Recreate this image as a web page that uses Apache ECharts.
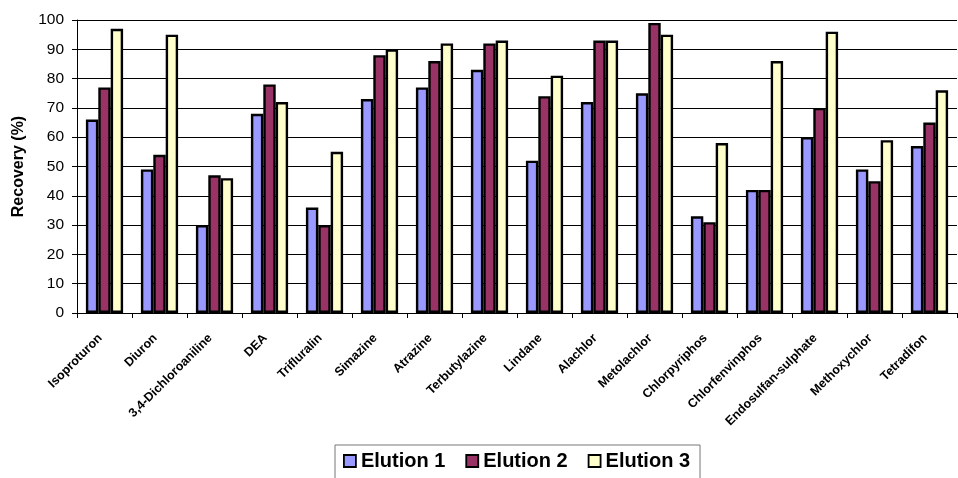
<!DOCTYPE html>
<html>
<head>
<meta charset="utf-8">
<script src="https://cdn.jsdelivr.net/npm/echarts@6/dist/echarts.min.js"></script>
<style>
  html, body { margin: 0; padding: 0; background: #fff; }
  #chart { width: 958px; height: 478px; }
</style>
</head>
<body>
<div id="chart"></div>
<script>
// Pesticide recovery by elution step
const compounds = [
  'Isoproturon', 'Diuron', '3,4-Dichloroaniline', 'DEA', 'Trifluralin',
  'Simazine', 'Atrazine', 'Terbutylazine', 'Lindane', 'Alachlor',
  'Metolachlor', 'Chlorpyriphos', 'Chlorfenvinphos', 'Endosulfan-sulphate',
  'Methoxychlor', 'Tetradifon'
];
const elution1 = [66, 49, 30, 68, 36, 73, 77, 83, 52, 72, 75, 33, 42, 60, 49, 57];
const elution2 = [77, 54, 47, 78, 30, 88, 86, 92, 74, 93, 99, 31, 42, 70, 45, 65];
const elution3 = [97, 95, 46, 72, 55, 90, 92, 93, 81, 93, 95, 58, 86, 96, 59, 76];
const seriesNames = ['Elution 1', 'Elution 2', 'Elution 3'];
const seriesColors = ['#9999FF', '#993366', '#FFFFCC'];

const font = 'Arial, "Liberation Sans", sans-serif';

function barSeries(name, data, color) {
  return {
    name: name,
    type: 'bar',
    data: data,
    barWidth: 12.4,
    barGap: '0%',
    itemStyle: { color: color, borderColor: '#000', borderWidth: 2.4 }
  };
}

const chart = echarts.init(document.getElementById('chart'), null, { renderer: 'canvas' });
chart.setOption({
  animation: false,
  backgroundColor: '#fff',
  grid: { left: 77, right: 1, top: 20, bottom: 165, containLabel: false },
  legend: {
    data: seriesNames,
    left: 335,
    top: 445,
    itemWidth: 12,
    itemHeight: 12,
    itemGap: 20,
    padding: [6, 10, 14, 8],
    borderColor: '#777',
    borderWidth: 1,
    icon: 'rect',
    itemStyle: { borderColor: '#000', borderWidth: 1.8 },
    textStyle: { fontFamily: font, fontSize: 20, fontWeight: 'bold', color: '#000' }
  },
  xAxis: {
    type: 'category',
    data: compounds,
    axisLine: { lineStyle: { color: '#000', width: 1 } },
    axisTick: { show: true, length: 5, lineStyle: { color: '#000' } },
    axisLabel: {
      rotate: 45,
      interval: 0,
      margin: 19,
      padding: [0, 6, 0, 0],
      fontFamily: font,
      fontSize: 12.5,
      fontWeight: 'bold',
      color: '#000'
    }
  },
  yAxis: {
    type: 'value',
    min: 0,
    max: 100,
    interval: 10,
    name: 'Recovery (%)',
    nameLocation: 'middle',
    nameGap: 50,
    nameTextStyle: { fontFamily: font, fontSize: 16, fontWeight: 'bold', color: '#000' },
    axisLine: { show: true, lineStyle: { color: '#000', width: 1 } },
    axisTick: { show: true, length: 5, lineStyle: { color: '#000' } },
    axisLabel: { fontFamily: font, fontSize: 15.5, color: '#000', margin: 13 },
    splitLine: { show: true, lineStyle: { color: '#000', width: 1 } }
  },
  series: [
    barSeries(seriesNames[0], elution1, seriesColors[0]),
    barSeries(seriesNames[1], elution2, seriesColors[1]),
    barSeries(seriesNames[2], elution3, seriesColors[2])
  ]
});
</script>
</body>
</html>
